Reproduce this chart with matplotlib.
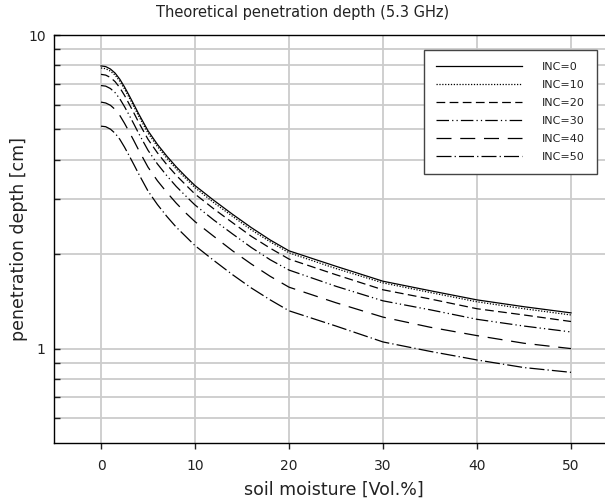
import matplotlib
matplotlib.use("Agg")
import matplotlib.pyplot as plt
from matplotlib.ticker import FixedLocator, NullFormatter, FixedFormatter

plt.rcParams.update({
    "font.family": "DejaVu Sans",
    "text.color": "#222222", "axes.labelcolor": "#222222",
    "xtick.color": "#222222", "ytick.color": "#222222",
})

# soil moisture [Vol.%]
moisture = [0, 0.5, 1, 1.5, 2, 2.5, 3, 3.5, 4, 5, 6, 7, 8, 9, 10,
            12, 14, 16, 18, 20, 25, 30, 35, 40, 45, 50]

# penetration depth [cm] per incidence angle
inc0 = [7.97, 7.93, 7.79, 7.56, 7.23, 6.83, 6.41, 6.00, 5.61, 4.95, 4.48, 4.11, 3.80, 3.54, 3.31,
        2.97, 2.68, 2.43, 2.22, 2.05, 1.83, 1.64, 1.53, 1.43, 1.36, 1.30]
inc10 = [7.85, 7.81, 7.67, 7.45, 7.12, 6.73, 6.31, 5.91, 5.52, 4.87, 4.41, 4.05, 3.74, 3.49, 3.26,
         2.92, 2.64, 2.39, 2.19, 2.02, 1.80, 1.62, 1.51, 1.41, 1.34, 1.28]
inc20 = [7.49, 7.45, 7.32, 7.10, 6.79, 6.42, 6.02, 5.64, 5.27, 4.65, 4.21, 3.86, 3.57, 3.33, 3.11,
         2.79, 2.52, 2.28, 2.09, 1.93, 1.72, 1.54, 1.44, 1.34, 1.28, 1.22]
inc30 = [6.90, 6.87, 6.75, 6.55, 6.26, 5.91, 5.55, 5.20, 4.86, 4.29, 3.88, 3.56, 3.29, 3.07, 2.87,
         2.57, 2.32, 2.10, 1.92, 1.78, 1.58, 1.42, 1.33, 1.24, 1.18, 1.13]
inc40 = [6.11, 6.07, 5.97, 5.79, 5.54, 5.23, 4.91, 4.60, 4.30, 3.79, 3.43, 3.15, 2.91, 2.71, 2.54,
         2.28, 2.05, 1.86, 1.70, 1.57, 1.40, 1.26, 1.17, 1.10, 1.04, 1.00]
inc50 = [5.12, 5.10, 5.01, 4.86, 4.65, 4.39, 4.12, 3.86, 3.61, 3.18, 2.88, 2.64, 2.44, 2.28, 2.13,
         1.91, 1.72, 1.56, 1.43, 1.32, 1.18, 1.05, 0.98, 0.92, 0.87, 0.84]

labels = ["INC=0", "INC=10", "INC=20", "INC=30", "INC=40", "INC=50"]
styles = ["-", (0, (1, 1.3)), (0, (7, 3.5)), (0, (10, 2.5, 1, 2.5, 1, 2.5)),
          (0, (12, 7)), (0, (12, 2.5, 1, 2.5))]

fig = plt.figure(figsize=(6.05, 5.04), dpi=100)
# axes runs past the right edge of the picture, as in the original
ax = fig.add_axes([54 / 605, 61 / 504, 564 / 605, 408 / 504])

for ys, lab, ls in zip([inc0, inc10, inc20, inc30, inc40, inc50], labels, styles):
    ax.plot(moisture, ys, color="black", lw=0.9, ls=ls, label=lab)

ax.set_yscale("log")
ax.set_ylim(0.5, 10)
ax.set_xlim(-5, 55)

ax.xaxis.set_major_locator(FixedLocator([0, 10, 20, 30, 40, 50]))
ax.yaxis.set_major_locator(FixedLocator([1, 10]))
ax.yaxis.set_major_formatter(FixedFormatter(["1", "10"]))
ax.yaxis.set_minor_locator(FixedLocator([0.6, 0.7, 0.8, 0.9, 2, 3, 4, 5, 6, 7, 8, 9]))
ax.yaxis.set_minor_formatter(NullFormatter())

ax.grid(True, which="major", color="#cccccc", lw=1.3)
ax.grid(True, which="minor", axis="y", color="#cccccc", lw=1.3)
ax.set_axisbelow(True)

ax.tick_params(axis="x", direction="out", length=4.5, width=1, labelsize=10, pad=7)
ax.tick_params(axis="y", which="both", direction="in", length=4, width=1,
               labelsize=10, pad=6)
for s in ax.spines.values():
    s.set_linewidth(1)
ax.spines["right"].set_visible(False)

ax.set_ylabel("penetration depth [cm]", fontsize=12.5)
ax.yaxis.set_label_coords(-0.046, 0.5)
ax.set_xlabel("soil moisture [Vol.%]", fontsize=12.5)
ax.xaxis.set_label_coords(0.497, -0.092)
fig.text(0.5, 0.975, "Theoretical penetration depth (5.3 GHz)", ha="center",
         va="center", fontsize=10.5)

ax.legend(loc="upper right", bbox_to_anchor=(597 / 605, 454 / 504),
          bbox_transform=fig.transFigure, borderaxespad=0, fontsize=8,
          handlelength=7.7, handletextpad=1.8, labelspacing=0.72, borderpad=1.1,
          fancybox=False, framealpha=1, edgecolor="#444444")

fig.savefig("out.png", dpi=100)
